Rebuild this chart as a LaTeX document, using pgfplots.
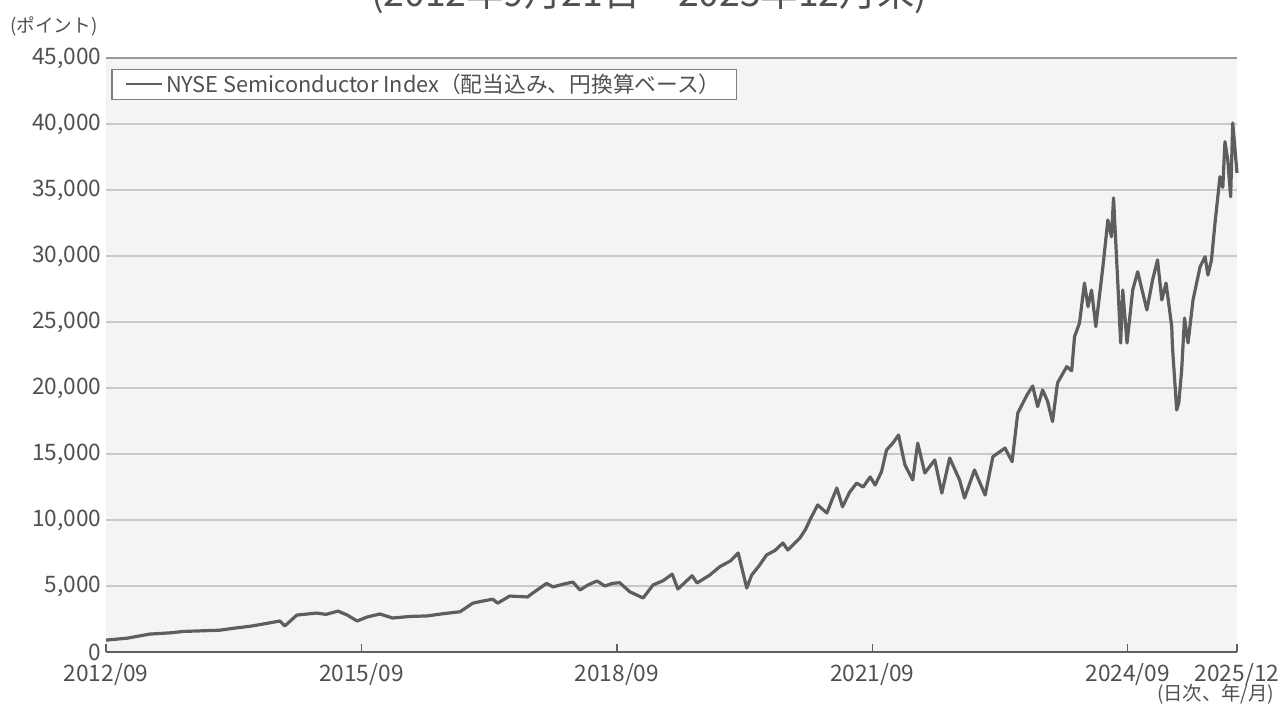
\documentclass[border=0pt]{standalone}
\usepackage{fontspec}
\setmainfont{Noto Sans CJK JP}
\usepackage{pgfplots}
\pgfplotsset{compat=1.18}

\definecolor{plotbg}{HTML}{F4F4F4}
\definecolor{gridc}{HTML}{C9C9C9}
\definecolor{linec}{HTML}{5E5E5E}
\definecolor{txt}{HTML}{505050}
\definecolor{axisc}{HTML}{606060}

\begin{document}
\begin{tikzpicture}[x=1pt,y=1pt]
\useasboundingbox (0,0) rectangle (960,531);
% title, cut off at the top as in the source
\node[anchor=base, text=txt, font=\fontsize{28}{30}\selectfont] at (486.75,526) {(2012年9月21日～2025年12月末)};
\node[anchor=west, inner sep=0pt, text=txt, font=\fontsize{14}{16}\selectfont] at (7.5,511) {(ポイント)};
\node[anchor=east, inner sep=0pt, text=txt, font=\fontsize{14.5}{16}\selectfont] at (956,10) {(日次、年/月)};

\begin{axis}[
  at={(79.5pt,42pt)}, anchor=south west,
  scale only axis, width=848.25pt, height=445.5pt,
  xmin=0, xmax=159.4, ymin=0, ymax=45000,
  axis background/.style={fill=plotbg},
  axis x line*=bottom, axis y line*=left,
  y axis line style={draw=none},
  x axis line style={draw=axisc, line width=1.5pt},
  xtick={0,36,72,108,144,159.4},
  xticklabels={2012/09,2015/09,2018/09,2021/09,2024/09,2025/12},
  ytick={0,5000,...,45000},
  tick align=inside,
  xtick style={draw=axisc, line width=1pt},
  major tick length=6pt,
  ytick style={draw=none},
  ymajorgrids,
  major grid style={draw=gridc, line width=1.4pt},
  scaled y ticks=false,
  yticklabel style={/pgf/number format/.cd, 1000 sep={,}, assume math mode=true},
  xticklabel style={yshift=-5pt},
  tick label style={text=txt, font=\fontsize{17}{18}\selectfont},
  legend style={at={(axis description cs:0,1)}, anchor=north west,
    xshift=4pt, yshift=-8pt, draw=gray, line width=1pt, fill=white,
    inner xsep=10pt, inner ysep=1.5pt,
    font=\fontsize{16.3}{17}\selectfont, text=txt},
  legend cell align=left,
  legend image code/.code={\draw[linec, line width=1.5pt] (0pt,0pt) -- (27pt,0pt);},
  clip=false,
]
\draw[draw=gray!80, line width=2pt] (axis cs:0,45000) -- (axis cs:159.4,45000);

\addplot[linec, line width=2.4pt, line join=round] coordinates {
(0,900)(3,1050)(6.2,1360)(9,1450)(11,1560)(13.2,1600)(16,1650)(18,1800)(20.3,1950)(22.5,2150)
(24.5,2350)(25.2,1970)(26.9,2800)(29.7,2950)(31,2850)(32.7,3100)(34,2800)(35.4,2350)(36.8,2650)
(38.6,2880)(40.4,2575)(43,2700)(45.2,2730)(47.5,2900)(49.9,3050)(51.7,3700)(53,3850)(54.5,4000)(55.2,3700)
(56.9,4240)(59.4,4170)(60.5,4600)(62.1,5200)(63.0,4930)(64.5,5150)(65.8,5300)(66.8,4700)(68,5100)(69.2,5380)
(70.3,5000)(71.4,5200)(72.4,5250)(73.8,4570)(75.7,4090)(77.1,5080)(78.5,5400)(79.8,5900)(80.6,4770)
(82.6,5780)(83.3,5230)(85.1,5830)(86.5,6460)(88,6900)(89.1,7500)(90.3,4850)(91.0,5830)
(92,6500)(93.1,7350)(94.3,7700)(95.4,8260)(96.1,7730)(97.8,8640)(98.6,9300)(99.2,10000)(100.3,11140)(101.6,10530)
(102.3,11500)(103.0,12420)(103.8,11000)(104.8,12100)(105.8,12800)(106.7,12500)(107.7,13260)(108.4,12650)(109.3,13660)
(110.0,15300)(110.9,15830)(111.7,16440)(112.6,14170)(113.7,13030)(114.4,15830)
(115.4,13560)(116.8,14550)(117.8,12040)(118.9,14700)(120.3,13030)(121.0,11670)
(122.4,13790)(123.9,11890)(125.0,14800)(126.7,15450)(127.7,14420)(128.5,18100)
(129.8,19470)(130.6,20150)(131.3,18590)(132.0,19850)(132.7,19000)(133.4,17450)
(134.1,20380)(135.4,21620)(136.1,21300)(136.5,23890)(137.2,24920)(137.9,27950)
(138.4,26160)(138.9,27420)(139.5,24650)(140.5,29190)(141.2,32730)(141.7,31460)
(142.0,34400)(142.6,27950)(143.0,23410)(143.3,27420)(143.9,23410)(144.7,27420)
(145.4,28810)(146.7,25910)(147.5,28180)(148.2,29700)(148.8,26670)(149.4,27950)
(150.2,24650)(150.3,23130)(150.9,18330)(151.2,18900)(151.6,21360)(152.0,25300)
(152.5,23410)(153.2,26670)(154.2,29190)(154.9,29950)(155.3,28560)(155.8,29700)
(156.3,32500)(157.0,36010)(157.4,35200)(157.7,38660)(158.1,37270)(158.5,34490)
(158.8,40080)(159.4,36290)
};
\addlegendentry{NYSE Semiconductor Index（配当込み、円換算ベース）}
\end{axis}
\end{tikzpicture}
\end{document}
